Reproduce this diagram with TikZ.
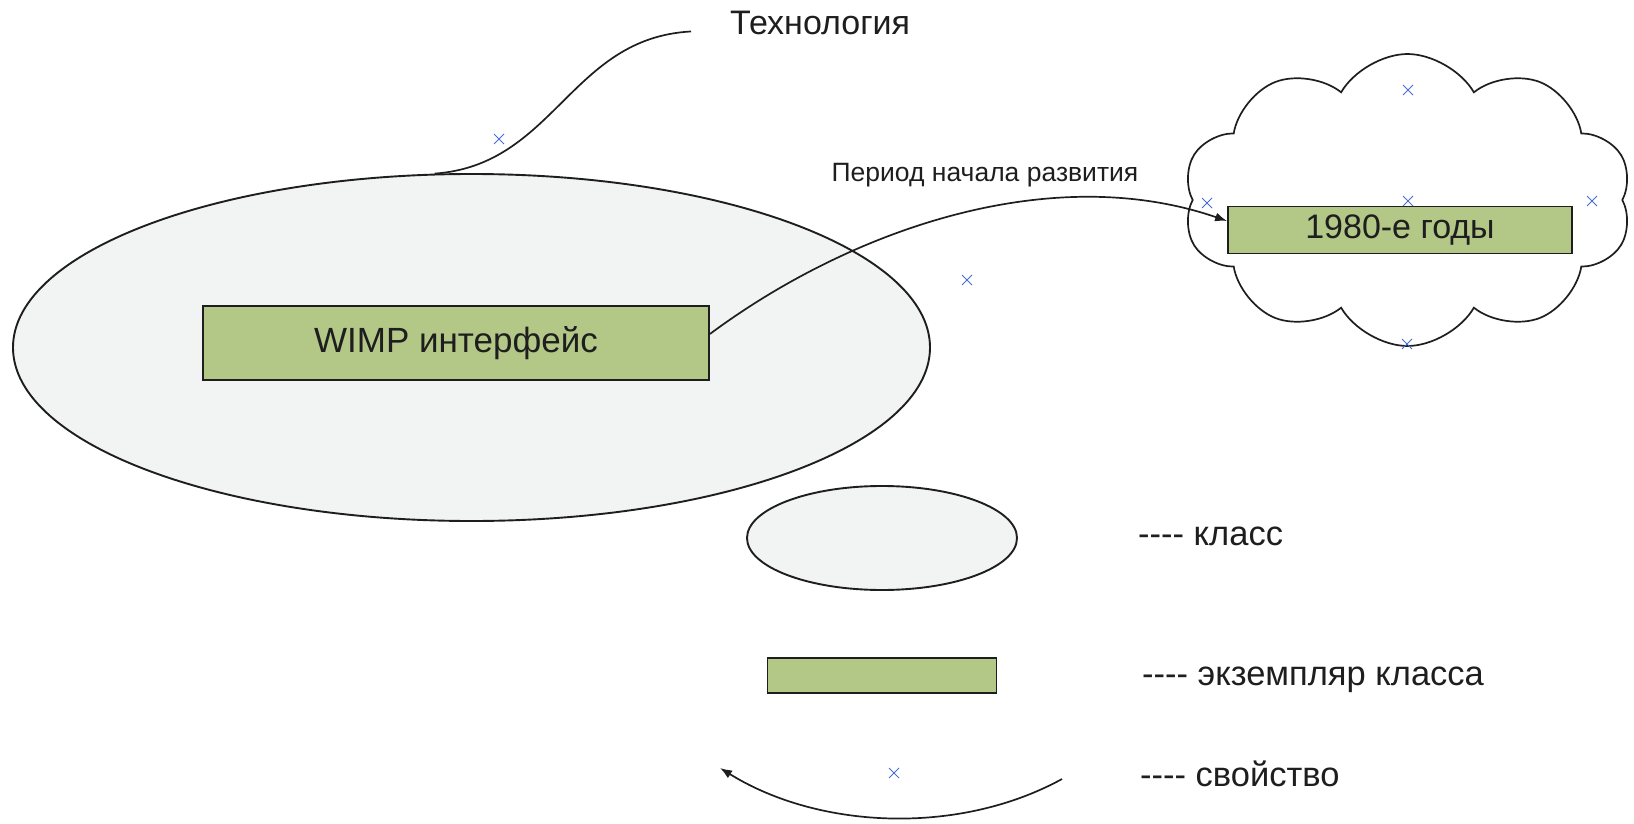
\documentclass[tikz,border=0pt]{standalone}
\usepackage{fontspec}
\setmainfont{Liberation Sans}[Ligatures=TeXOff]
\usetikzlibrary{arrows.meta,positioning,shapes.geometric,shapes.symbols,shapes.misc}
\definecolor{Leaf}{HTML}{B3C787}
\definecolor{Mist}{HTML}{F2F3F3}
\definecolor{Mark}{HTML}{4A6ED0}
\definecolor{Ink}{HTML}{1E1E1E}

\begin{document}
\begin{tikzpicture}[x=1pt,y=-1pt,
        cls/.style={ellipse,draw=Ink,fill=Mist,line width=1.9pt,inner sep=0pt},
        inst/.style={rectangle,draw=Ink,fill=Leaf,line width=1.8pt,inner sep=0pt,
          text=Ink,font=\fontsize{34}{40}\selectfont},
        prop/.style={cross out,draw=Mark,line width=1pt,minimum size=9pt,inner sep=0pt},
        lbl/.style={inner sep=0pt,text=Ink,font=\fontsize{34}{40}\selectfont},
        link/.style={draw=Ink,line width=1.7pt,-{Latex[length=12pt,width=9pt]}}]
        \useasboundingbox (0,0) rectangle (1634,824);
        % class with its instance
        \node[cls,minimum width=917pt,minimum height=347pt] (techcls) at (471.5,347.5) {};
        \node[lbl,anchor=base west] (techlbl) at (730,35) {Технология};
        \draw[draw=Ink,line width=1.7pt] (techcls.102) .. controls (555,165) and (570,38)
          .. ([xshift=-39pt,yshift=-8pt]techlbl.west);
        \node[inst,minimum width=506pt,minimum height=74pt,
          font=\fontsize{35}{40}\selectfont] (wimp) at (456,343) {WIMP интерфейс};
        % value
        \node[cloud,draw=Ink,line width=1.7pt,cloud puffs=10,cloud puff arc=120,
          cloud ignores aspect,minimum width=449pt,minimum height=292pt,
          inner sep=0pt] (era) at (1407.5,200) {};
        \node[inst,minimum width=344pt,minimum height=47pt] (eighties) at (1400,230) {1980-е годы};
        \node[lbl,anchor=base,font=\fontsize{26.5}{32}\selectfont] (period) at (985,182)
          {Период начала развития};
        \draw[link] ([yshift=9pt]wimp.east) .. controls (850,230) and (1050,160)
          .. ([yshift=9pt]eighties.west);
        % legend
        \node[cls,minimum width=270pt,minimum height=104pt] (keycls) at (882,538) {};
        \node[inst,minimum width=229pt,minimum height=35pt,below=66pt of keycls] (keyinst) {};
        \coordinate (keyfrom) at (1062,779);
        \coordinate (keyto) at (720,768);
        \draw[link] (keyfrom) .. controls (960,835) and (820,830) .. (keyto);
        \node[lbl,anchor=base west,font=\fontsize{34.5}{40}\selectfont] (clstxt) at (1138,545) {---- класс};
        \node[lbl,anchor=base west,font=\fontsize{34.5}{40}\selectfont] (insttxt) at (1142,685) {---- экземпляр класса};
        \node[lbl,anchor=base west,font=\fontsize{34.5}{40}\selectfont] (proptxt) at (1140,786) {---- свойство};
        % properties
        \foreach \px/\py [count=\i] in {499/139,967/280,1408/90,1207/203,1408/201,
          1592/201,1407/344,894/773}
          \node[prop] (p\i) at (\px,\py) {};
      \end{tikzpicture}
\end{document}
